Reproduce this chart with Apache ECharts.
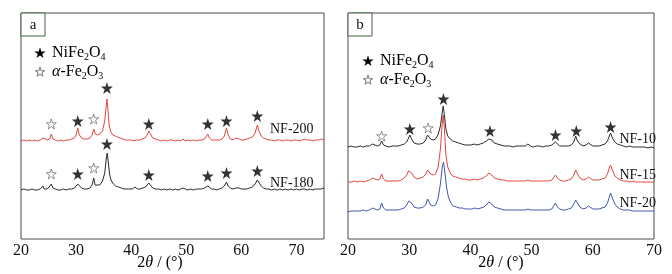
<!DOCTYPE html>
<html lang="en">
<head>
    <meta charset="UTF-8">
    <title>xrd</title>
    <style>
        html, body { margin: 0; padding: 0; background: #fff; }
        #xrd { width: 672px; height: 274px; }
    </style>
    <script src="https://cdn.jsdelivr.net/npm/echarts@6/dist/echarts.min.js"></script>
</head>
<body>
    <div id="xrd"></div>
    <script>
        // x ticks
        var ticksA = [20, 30, 40, 50, 60, 70];
        var ticksB = [20, 30, 40, 50, 60, 70];

        // panel a, NF-200 (red)
        var nf200 = [[20,98],[20.5,99],[21,98],[21.5,99],[22,98],[22.5,99],[23,98],[23.5,99],[24,101],[24.3,99],[24.8,99],[25.2,100],[25.5,105],[25.8,100],[26.2,99],[26.7,98],[27.2,99],[27.7,98],[28.2,99],[28.7,99],[29.2,100],[29.7,101],[30.0,104],[30.3,111],[30.6,104],[31,101],[31.5,100],[32,100],[32.5,101],[32.9,104],[33.2,110],[33.5,105],[33.9,104],[34.3,105],[34.8,108],[35.2,118],[35.45,132],[35.6,140],[35.8,128],[36.0,114],[36.3,107],[36.7,104],[37.1,103],[37.5,102],[38,101],[38.5,100],[39,99],[39.5,99],[40,99],[40.5,98],[41,99],[41.5,99],[42,100],[42.5,101],[42.9,104],[43.2,108],[43.5,105],[43.9,101],[44.4,100],[45,99],[45.5,98],[46,99],[46.5,98],[47,99],[47.5,99],[48,98],[48.5,99],[49,98],[49.4,100],[49.8,98],[50.3,99],[50.8,98],[51.3,99],[51.8,98],[52.3,99],[52.8,99],[53.3,100],[53.6,102],[53.9,105],[54.2,101],[54.6,99],[55,99],[55.5,99],[56,99],[56.5,100],[56.9,103],[57.3,111],[57.6,104],[58,100],[58.5,99],[59,101],[59.3,103],[59.6,100],[60,99],[60.5,99],[61,100],[61.5,101],[62,102],[62.5,106],[62.9,114],[63.2,108],[63.6,103],[64,101],[64.5,100],[65,99],[65.5,99],[66,98],[66.5,99],[67,99],[67.5,98],[68,99],[68.5,99],[69,98],[69.5,99],[70,99],[70.5,98],[71,99],[71.5,100],[72,99],[72.5,99],[73,98],[73.5,99],[74,99],[74.5,100],[75,99]];

        // panel a, NF-180 (black)
        var nf180 = [[20,49],[20.5,50],[21,49],[21.5,49],[22,50],[22.5,49],[23,49],[23.5,50],[23.8,51],[24.0,53],[24.2,50],[24.6,50],[25,51],[25.3,53],[25.5,55],[25.8,51],[26.2,50],[26.7,49],[27.2,49],[27.7,50],[28.2,49],[28.7,50],[29.2,50],[29.7,51],[30.0,53],[30.3,55],[30.6,53],[31,51],[31.5,50],[32,50],[32.5,51],[32.9,54],[33.2,61],[33.45,54],[33.8,53],[34.3,54],[34.8,58],[35.2,66],[35.45,79],[35.65,86],[35.85,76],[36.1,64],[36.4,58],[36.8,55],[37.2,53],[37.7,52],[38.2,51],[38.7,50],[39.2,50],[39.7,50],[40.2,50],[40.7,52],[41.1,50],[41.6,50],[42.1,51],[42.6,52],[42.9,54],[43.2,56],[43.5,54],[43.9,51],[44.4,50],[45,50],[45.5,49],[46,50],[46.5,49],[47,50],[47.5,49],[48,50],[48.5,49],[49,50],[49.4,51],[49.8,50],[50.3,49],[50.8,50],[51.3,49],[51.8,50],[52.3,50],[52.8,50],[53.3,51],[53.6,52],[53.9,53],[54.2,51],[54.6,50],[55,50],[55.5,49],[56,50],[56.5,51],[56.9,53],[57.3,57],[57.6,53],[58,51],[58.5,50],[59,51],[59.3,53],[59.6,51],[60,50],[60.5,50],[61,50],[61.5,51],[62,52],[62.5,55],[62.9,59],[63.2,57],[63.6,53],[64,51],[64.5,50],[65,50],[65.5,49],[66,50],[66.5,49],[67,50],[67.5,49],[68,50],[68.5,49],[69,50],[69.5,49],[70,50],[70.5,49],[71,50],[71.5,50],[72,49],[72.5,50],[73,49],[73.5,50],[74,50],[74.5,50],[75,51]];

        // panel b, NF-10 (black)
        var nf10 = [[20,92],[20.5,93],[21,92],[21.5,92],[22,93],[22.5,92],[23,93],[23.5,93],[24,95],[24.3,93],[24.8,93],[25.2,94],[25.5,98],[25.8,94],[26.2,93],[26.7,92],[27.2,93],[27.7,93],[28.2,93],[28.7,94],[29.2,95],[29.6,97],[29.9,101],[30.1,104],[30.4,100],[30.8,96],[31.3,95],[31.8,95],[32.3,96],[32.7,99],[33.0,104],[33.2,105],[33.5,100],[33.9,99],[34.3,100],[34.7,104],[35.1,113],[35.4,127],[35.55,133],[35.75,124],[36.0,110],[36.3,103],[36.7,100],[37.1,98],[37.6,97],[38.1,96],[38.6,95],[39.1,94],[39.6,94],[40.1,94],[40.6,95],[41.1,94],[41.6,95],[42.1,96],[42.6,98],[43.0,100],[43.2,101],[43.5,99],[43.9,96],[44.4,95],[45,94],[45.5,93],[46,93],[46.5,93],[47,92],[47.5,93],[48,93],[48.5,93],[49,93],[49.4,95],[49.8,93],[50.3,92],[50.8,93],[51.3,93],[51.8,92],[52.3,93],[52.8,93],[53.3,94],[53.6,95],[53.9,97],[54.2,95],[54.6,93],[55,93],[55.5,93],[56,93],[56.5,94],[56.9,97],[57.2,103],[57.5,98],[57.9,95],[58.4,93],[58.9,94],[59.3,96],[59.6,94],[60,93],[60.5,93],[61,93],[61.5,94],[62,95],[62.4,98],[62.7,103],[62.9,106],[63.2,101],[63.6,97],[64,95],[64.5,94],[65,93],[65.5,92],[66,93],[66.5,92],[67,92],[67.5,92],[68,92],[68.5,92],[69,91],[69.5,92],[70,91]];

        // panel b, NF-15 (red)
        var nf15 = [[20,57],[20.5,57],[21,58],[21.5,57],[22,58],[22.5,57],[23,58],[23.5,59],[24,61],[24.3,59],[24.8,59],[25.2,60],[25.5,65],[25.8,60],[26.2,58],[26.7,58],[27.2,58],[27.7,58],[28.2,58],[28.7,59],[29.2,61],[29.6,64],[29.9,68],[30.1,70],[30.4,66],[30.8,62],[31.3,60],[31.8,61],[32.3,62],[32.7,65],[33.0,69],[33.2,69],[33.5,65],[33.9,64],[34.3,65],[34.7,71],[35.1,90],[35.35,112],[35.55,124],[35.75,110],[36.0,84],[36.3,72],[36.7,66],[37.1,63],[37.6,62],[38.1,61],[38.6,60],[39.1,60],[39.6,59],[40.1,59],[40.6,60],[41.1,59],[41.6,60],[42.1,61],[42.6,63],[43.0,66],[43.2,67],[43.5,64],[43.9,61],[44.4,60],[45,59],[45.5,59],[46,58],[46.5,58],[47,58],[47.5,58],[48,58],[48.5,58],[49,58],[49.4,59],[49.8,58],[50.3,58],[50.8,58],[51.3,58],[51.8,58],[52.3,58],[52.8,58],[53.3,59],[53.6,61],[53.9,64],[54.2,61],[54.6,59],[55,58],[55.5,58],[56,59],[56.5,60],[56.9,64],[57.2,69],[57.5,65],[57.9,61],[58.4,59],[58.9,60],[59.3,62],[59.6,60],[60,59],[60.5,59],[61,59],[61.5,60],[62,61],[62.4,65],[62.7,71],[62.9,74],[63.2,69],[63.6,63],[64,61],[64.5,59],[65,58],[65.5,58],[66,57],[66.5,58],[67,57],[67.5,57],[68,57],[68.5,57],[69,57],[69.5,57],[70,57]];

        // panel b, NF-20 (blue)
        var nf20 = [[20,27],[20.5,28],[21,28],[21.5,28],[22,28],[22.5,29],[23,28],[23.5,29],[24,31],[24.3,29],[24.8,29],[25.2,30],[25.5,36],[25.8,31],[26.2,29],[26.7,29],[27.2,29],[27.7,29],[28.2,29],[28.7,30],[29.2,31],[29.6,34],[29.9,38],[30.1,39],[30.4,36],[30.8,32],[31.3,31],[31.8,31],[32.3,32],[32.7,34],[33.0,40],[33.2,41],[33.5,34],[33.9,33],[34.3,34],[34.7,40],[35.1,55],[35.4,72],[35.6,77],[35.8,68],[36.1,52],[36.4,42],[36.8,36],[37.2,33],[37.7,32],[38.2,31],[38.7,31],[39.2,30],[39.7,30],[40.2,30],[40.7,31],[41.2,30],[41.7,31],[42.2,32],[42.6,34],[43.0,37],[43.2,38],[43.5,35],[43.9,32],[44.4,31],[45,30],[45.5,29],[46,29],[46.5,29],[47,29],[47.5,29],[48,29],[48.5,29],[49,29],[49.4,30],[49.8,29],[50.3,29],[50.8,29],[51.3,29],[51.8,29],[52.3,29],[52.8,29],[53.3,30],[53.6,33],[53.9,36],[54.2,32],[54.6,30],[55,29],[55.5,29],[56,30],[56.5,31],[56.9,35],[57.2,39],[57.5,36],[57.9,32],[58.4,30],[58.9,31],[59.3,33],[59.6,31],[60,30],[60.5,30],[61,30],[61.5,31],[62,32],[62.4,36],[62.7,42],[62.9,46],[63.2,41],[63.6,35],[64,32],[64.5,30],[65,29],[65.5,29],[66,29],[66.5,28],[67,28],[67.5,28],[68,28],[68.5,28],[69,28],[69.5,28],[70,28]];

        // peak marks: [2theta, height, 1 = NiFe2O4 (filled), 0 = a-Fe2O3 (open)]
        var starsNF200 = [[25.5,115,0],[30.3,118,1],[33.2,120,0],[35.6,151,1],[43.2,115,1],[53.9,115,1],[57.3,118,1],[62.9,123,1]];
        var starsNF180 = [[25.5,65,0],[30.3,65,1],[33.2,71,0],[35.6,95,1],[43.2,64,1],[53.9,63,1],[57.3,66,1],[62.9,68,1]];
        var starsNF10 = [[25.5,103,0],[30.1,110,1],[33.1,111,0],[35.6,140,1],[43.2,108,1],[53.9,104,1],[57.3,108,1],[62.9,112,1]];

        var STAR = 'path://M12,0 L14.7,8.3 L23.4,8.3 L16.4,13.4 L19.1,21.7 L12,16.6 L4.9,21.7 L7.6,13.4 L0.6,8.3 L9.3,8.3 Z';
        var STAR_PTS = [[12,0],[14.7,8.3],[23.4,8.3],[16.4,13.4],[19.1,21.7],[12,16.6],[4.9,21.7],[7.6,13.4],[0.6,8.3],[9.3,8.3]];
        var serif = '"Liberation Serif", "Times New Roman", serif';
        var frame = '#4a4a4a';

        var myChart = echarts.init(document.getElementById('xrd'));

        function filled(arr) { return arr.filter(function (d) { return d[2] === 1; }); }
        function open(arr) { return arr.filter(function (d) { return d[2] === 0; }); }

        function xAxisFor(idx, max, ticks) {
            return {
                type: 'value', gridIndex: idx, min: 20, max: max, interval: 10,
                axisLine: { show: false },
                axisTick: { show: false },
                splitLine: { show: false },
                axisLabel: {
                    fontFamily: serif, fontSize: 16, color: '#111', margin: 4,
                    showMaxLabel: ticks.indexOf(max) >= 0,
                    formatter: function (v) { return ticks.indexOf(v) >= 0 ? String(v) : ''; }
                }
            };
        }
        function yAxisFor(idx) {
            return { type: 'value', gridIndex: idx, min: 0, max: 226, show: false };
        }
        function trace(data, color, idx) {
            return {
                type: 'line', data: data, xAxisIndex: idx, yAxisIndex: idx,
                showSymbol: false, silent: true,
                lineStyle: { color: color, width: 1 }
            };
        }
        function marks(data, isOpen, idx) {
            return {
                type: 'scatter', data: data, xAxisIndex: idx, yAxisIndex: idx,
                symbol: STAR, symbolSize: isOpen ? 10 : 12, silent: true, z: 5,
                itemStyle: isOpen ? { color: '#fff', borderColor: '#555', borderWidth: 0.8 } : { color: '#000' }
            };
        }
        // legend star as polygon, centred on (cx, cy), width s
        function starShape(cx, cy, s, style) {
            var k = s / 24;
            return { type: 'polygon', shape: { points: STAR_PTS.map(function (p) { return [cx + (p[0] - 12) * k, cy + (p[1] - 11.5) * k]; }) }, style: style };
        }
        var richSub = {
            m: { fontFamily: serif, fontSize: 16, color: '#111' },
            i: { fontFamily: serif, fontSize: 16, fontStyle: 'italic', color: '#111' },
            s: { fontFamily: serif, fontSize: 10, color: '#111', padding: [9, 0, 0, 0] }
        };
        function legendBlock(x, y) {
            return [
                starShape(x, y, 12, { fill: '#000' }),
                { type: 'text', x: x + 12, y: y, style: { text: '{m|NiFe}{s|2}{m|O}{s|4}', verticalAlign: 'middle', rich: richSub } },
                starShape(x, y + 19, 10, { fill: '#fff', stroke: '#555', lineWidth: 0.8 }),
                { type: 'text', x: x + 12, y: y + 19, style: { text: '{i|α}{m|-Fe}{s|2}{m|O}{s|3}', verticalAlign: 'middle', rich: richSub } }
            ];
        }
        function panelTag(x, y, t) {
            return [
                { type: 'rect', shape: { x: x, y: y, width: 24, height: 23 }, style: { fill: '#fff', stroke: '#456545', lineWidth: 1 } },
                { type: 'text', x: x + 12, y: y + 12, style: { text: t, font: '15px ' + serif, fill: '#111', align: 'center', verticalAlign: 'middle' } }
            ];
        }
        function label(x, y, t, align) {
            return { type: 'text', x: x, y: y, z: 10, style: { text: t, font: '14px ' + serif, fill: '#111', align: align, verticalAlign: 'middle' } };
        }
        function axisTitle(x) {
            return { type: 'text', x: x, y: 263, style: { text: '{d|2}{i|θ}{d| / (°)}', align: 'center', verticalAlign: 'middle',
                rich: { d: { fontFamily: serif, fontSize: 16, color: '#111' }, i: { fontFamily: serif, fontSize: 16, fontStyle: 'italic', color: '#111' } } } };
        }

        var option = {
            backgroundColor: '#fff',
            animation: false,
            grid: [
                { left: 21, top: 13, width: 303, height: 226, show: true, borderColor: frame, borderWidth: 1, backgroundColor: '#fff' },
                { left: 348, top: 13, width: 306, height: 226, show: true, borderColor: frame, borderWidth: 1, backgroundColor: '#fff' }
            ],
            xAxis: [xAxisFor(0, 75, ticksA), xAxisFor(1, 70, ticksB)],
            yAxis: [yAxisFor(0), yAxisFor(1)],
            series: [
                trace(nf200, '#e2473f', 0),
                trace(nf180, '#2b2b2b', 0),
                marks(filled(starsNF200), false, 0), marks(open(starsNF200), true, 0),
                marks(filled(starsNF180), false, 0), marks(open(starsNF180), true, 0),
                trace(nf20, '#4456ad', 1),
                trace(nf15, '#e2473f', 1),
                trace(nf10, '#2b2b2b', 1),
                marks(filled(starsNF10), false, 1), marks(open(starsNF10), true, 1)
            ],
            graphic: [].concat(
                panelTag(21, 13, 'a'), panelTag(348, 13, 'b'),
                legendBlock(40, 53), legendBlock(368, 61),
                [label(270, 129, 'NF-200', 'left'), label(270, 183, 'NF-180', 'left'),
                 label(656, 139, 'NF-10', 'right'), label(656, 175, 'NF-15', 'right'), label(656, 203, 'NF-20', 'right'),
                 axisTitle(160), axisTitle(501)]
            )
        };
        myChart.setOption(option);
    </script>
</body>
</html>
